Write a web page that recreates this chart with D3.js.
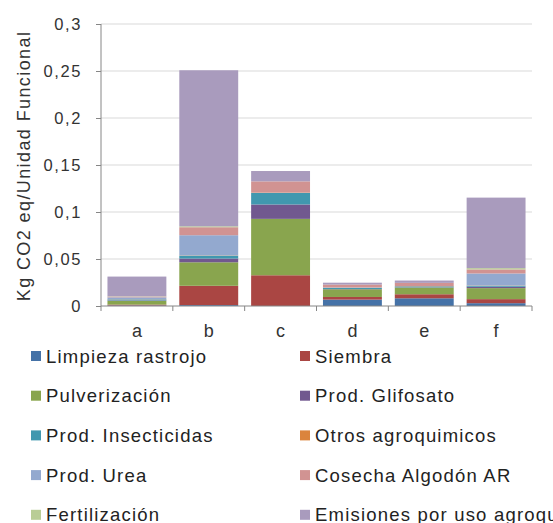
<!DOCTYPE html>
<html>
<head>
<meta charset="utf-8">
<script src="https://cdn.jsdelivr.net/npm/d3@7"></script>
<style>
  body { margin: 0; background: #fff; }
  svg { font-family: "Liberation Sans", Arial, sans-serif; }
</style>
</head>
<body>
<div id="chart"></div>
<script>
const categories = ["a", "b", "c", "d", "e", "f"];

const seriesNames = [
  "Limpieza rastrojo", "Siembra", "Pulverización", "Prod. Glifosato",
  "Prod. Insecticidas", "Otros agroquimicos", "Prod. Urea",
  "Cosecha Algodón AR", "Fertilización", "Emisiones por uso agroquimicos"
];

const limpieza      = [0.0005, 0.001,  0,      0.0068, 0.0082, 0.003];
const siembra       = [0.001,  0.0205, 0.0327, 0.0028, 0.0043, 0.0043];
const pulverizacion = [0.004,  0.025,  0.060,  0.0082, 0.0071, 0.0117];
const glifosato     = [0.0005, 0.004,  0.0153, 0.0003, 0.0003, 0.0015];
const insecticidas  = [0.001,  0.003,  0.0123, 0.0012, 0.001,  0.001];
const otros         = [0.0002, 0.0003, 0.0003, 0.0002, 0.0002, 0.0003];
const urea          = [0.002,  0.0215, 0,      0.0003, 0,      0.0128];
const cosecha       = [0.0008, 0.0085, 0.012,  0.003,  0.0035, 0.0043];
const fertilizacion = [0.0003, 0.001,  0,      0,      0,      0.0014];
const emisiones     = [0.021,  0.166,  0.011,  0.002,  0.0025, 0.075];

const yTicks = [0, 0.05, 0.1, 0.15, 0.2, 0.25, 0.3];

const colors = ["#4572A7", "#AA4643", "#89A54E", "#71588F", "#4198AF",
                "#DB843D", "#93A9CF", "#D19392", "#B9CD96", "#A99BBD"];

const allSeries = [limpieza, siembra, pulverizacion, glifosato, insecticidas,
                   otros, urea, cosecha, fertilizacion, emisiones];

const rows = categories.map((c, i) => {
  const r = { cat: c };
  seriesNames.forEach((s, j) => r[s] = allSeries[j][i]);
  return r;
});

const W = 553, H = 523;
const svg = d3.select("#chart").append("svg")
  .attr("width", W).attr("height", H);

const x = d3.scaleBand()
  .domain(categories)
  .range([101, 532])
  .paddingInner(0.18)
  .paddingOuter(0.09);

const y = d3.scaleLinear()
  .domain([0, 0.3])
  .range([306, 24]);

// gridlines
svg.append("g")
  .selectAll("line")
  .data(yTicks.slice(1))
  .join("line")
  .attr("x1", 101).attr("x2", 532)
  .attr("y1", d => y(d)).attr("y2", d => y(d))
  .attr("stroke", "#d9d9d9")
  .attr("stroke-width", 1);

const stack = d3.stack().keys(seriesNames);
const stacked = stack(rows);

svg.append("g")
  .selectAll("g")
  .data(stacked)
  .join("g")
  .attr("fill", (d, i) => colors[i])
  .selectAll("rect")
  .data(d => d)
  .join("rect")
  .attr("x", d => x(d.data.cat))
  .attr("width", x.bandwidth())
  .attr("y", d => y(d[1]))
  .attr("height", d => y(d[0]) - y(d[1]));

// y axis
const fmt = d => String(d).replace(".", ",");
const yAxis = d3.axisLeft(y).tickValues(yTicks).tickFormat(fmt).tickSize(5).tickPadding(14);
const ga = svg.append("g").attr("transform", "translate(101,0)").call(yAxis);
ga.select(".domain").attr("stroke", "#868686").attr("d", "M0,24V306");
ga.selectAll(".tick line").attr("stroke", "#868686");
ga.selectAll(".tick text")
  .attr("fill", "#333")
  .style("font-size", "16.5px")
  .style("letter-spacing", "1.6px");

// x axis
const xAxis = d3.axisBottom(x).tickSize(0).tickPadding(18);
const gx = svg.append("g").attr("transform", "translate(0,306)").call(xAxis);
gx.select(".domain").attr("stroke", "#868686").attr("d", "M101,0H532");
gx.selectAll(".tick text")
  .attr("fill", "#333")
  .style("font-size", "18px");
gx.append("g")
  .selectAll("line")
  .data(d3.range(categories.length + 1))
  .join("line")
  .attr("x1", i => 101 + i * x.step())
  .attr("x2", i => 101 + i * x.step())
  .attr("y1", 0).attr("y2", 5)
  .attr("stroke", "#868686");

// y title
svg.append("text")
  .attr("transform", "translate(30,166) rotate(-90)")
  .attr("text-anchor", "middle")
  .attr("fill", "#333")
  .style("font-size", "18px")
  .style("letter-spacing", "1.4px")
  .text("Kg CO2 eq/Unidad Funcional");

// legend
const legend = svg.append("g");
seriesNames.forEach((name, i) => {
  const col = i % 2, row = Math.floor(i / 2);
  const lx = col === 0 ? 31 : 300;
  const ly = 356 + row * 39.7;
  legend.append("rect")
    .attr("x", lx).attr("y", ly - 5)
    .attr("width", 10).attr("height", 10)
    .attr("fill", colors[i]);
  legend.append("text")
    .attr("x", lx + 15).attr("y", ly + 6.5)
    .attr("fill", "#222")
    .style("font-size", "18.5px")
    .style("letter-spacing", "1.2px")
    .text(name);
});
</script>
</body>
</html>
